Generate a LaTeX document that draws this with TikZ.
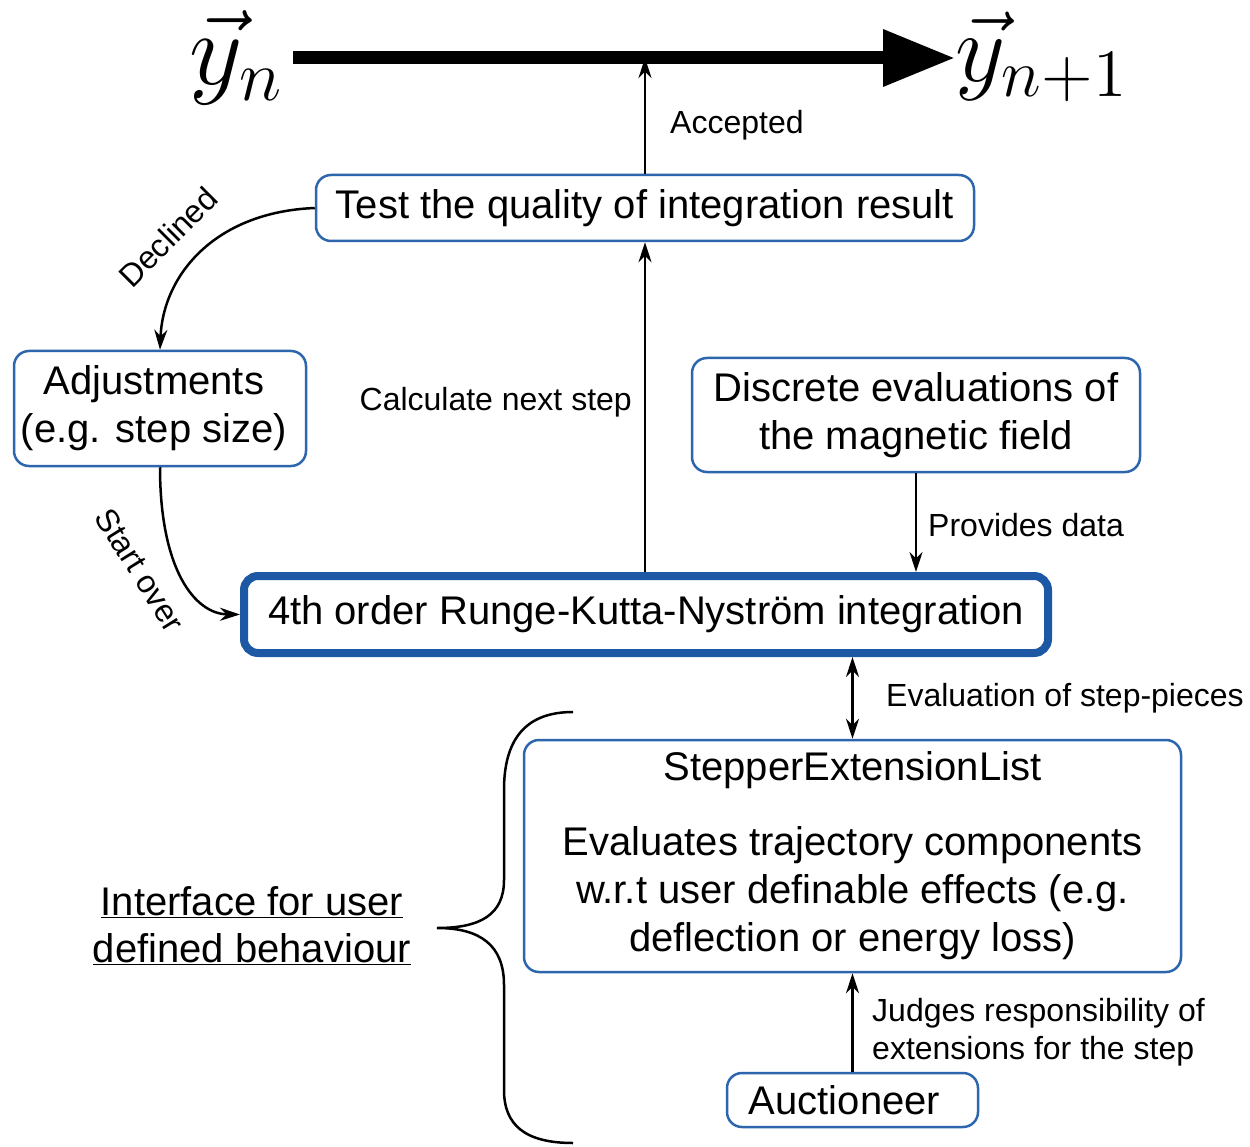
\documentclass[tikz,border=0pt]{standalone}
\usepackage{fontspec}
\setmainfont{Liberation Sans}
\usetikzlibrary{arrows.meta,calc}
\definecolor{boxblue}{RGB}{45,102,172}
\definecolor{deepblue}{RGB}{28,88,164}
\tikzset{
  box/.style={draw=boxblue, line width=2.5pt, rounded corners=15pt, fill=white, align=center,
    inner sep=0pt, font=\fontsize{40}{48}\selectfont},
  mainbox/.style={box, draw=deepblue, line width=8pt, rounded corners=14pt},
  lbl/.style={font=\fontsize{32}{38}\selectfont, inner sep=0pt},
  conn/.style={line width=2.5pt, -{Stealth[length=20pt,width=13pt]}},
  bigmath/.style={inner sep=0pt}
}
\begin{document}
\begin{tikzpicture}[x=1pt,y=-1pt]
\useasboundingbox (0,0) rectangle (1250,1147);
\fill[white] (0,0) rectangle (1250,1147);

% top vectors
\node[bigmath] (yn) at (237,58) {\scalebox{5.0}{\huge$\vec{y}_n$}};
\node[bigmath] (yn1) at (1042,57) {\scalebox{4.7}{\huge$\vec{y}_{n+1}$}};
\coordinate (ls) at (293,58);
\coordinate (le) at (955,58);
\draw[line width=13pt, -{Triangle[length=72pt,width=54pt]}] (ls) -- (le);

% boxes
\node[box, minimum width=658pt, minimum height=66pt] (test) at (645,208) {Test the quality of integration result};
\node[box, minimum width=292pt, minimum height=115pt] (adj) at (160,408.5) {\hspace*{-12pt}Adjustments\\\hspace*{-12pt}(e.g. step size)};
\node[box, minimum width=448pt, minimum height=114pt] (disc) at (916,415) {Discrete evaluations of\\the magnetic field};
\node[mainbox, minimum width=804pt, minimum height=77pt] (rkn) at (646,614.5) {4th order Runge-Kutta-Nystr\"om integration};
\node[box, minimum width=657pt, minimum height=232pt] (sel) at (852.5,856) {StepperExtensionList\\[27pt]Evaluates trajectory components\\w.r.t user definable effects (e.g.\\deflection or energy loss)};
\node[box, minimum width=251pt, minimum height=54pt] (auc) at (852.5,1100) {\hspace*{-16pt}Auctioneer};

% connectors
\coordinate (acc) at (test.north |- le);
\draw[conn] (test.north) -- (acc);
\node[lbl, anchor=west] (acclbl) at (670,125) {Accepted};

\draw[conn] (test.west) .. controls (215,212) and (163,275) .. (adj.north);
\node[lbl, rotate=45] (declbl) at (168,237) {Declined};

\draw[conn] (adj.south) .. controls (160,570) and (195,614) .. (rkn.west);
\node[lbl, rotate=-58] (stlbl) at (140,570) {Start over};

\draw[conn] (rkn.north -| test) -- (test.south);
\node[lbl, anchor=east] (calclbl) at (632,402) {Calculate next step};

\draw[conn] (disc.south) -- (disc.south |- rkn.north);
\node[lbl, anchor=west] (provlbl) at (928,525) {Provides data};

\draw[line width=2.5pt, {Stealth[length=20pt,width=13pt]}-{Stealth[length=20pt,width=13pt]}] (rkn.south -| auc.north) -- (sel.north -| auc.north);
\node[lbl, anchor=west] (evlbl) at (886,698) {Evaluation of step-pieces};

\draw[conn] (auc.north) -- (auc.north |- sel.south);
\node[lbl, anchor=west, align=left] (judlbl) at (872,1032) {Judges responsibility of\\extensions for the step};

% brace
\draw[line width=2.5pt] (573,712) .. controls (525,712) and (504,740) .. (504,790) -- (504,880)
  .. controls (504,915) and (480,928) .. (437,928)
  .. controls (480,928) and (504,945) .. (504,985) -- (504,1090)
  .. controls (504,1125) and (525,1143) .. (573,1143);
\node[font=\fontsize{40}{47}\selectfont, align=center, inner sep=0pt] (iface) at (252,926) {\underline{Interface for user}\\\underline{defined behaviour}};
\end{tikzpicture}
\end{document}
